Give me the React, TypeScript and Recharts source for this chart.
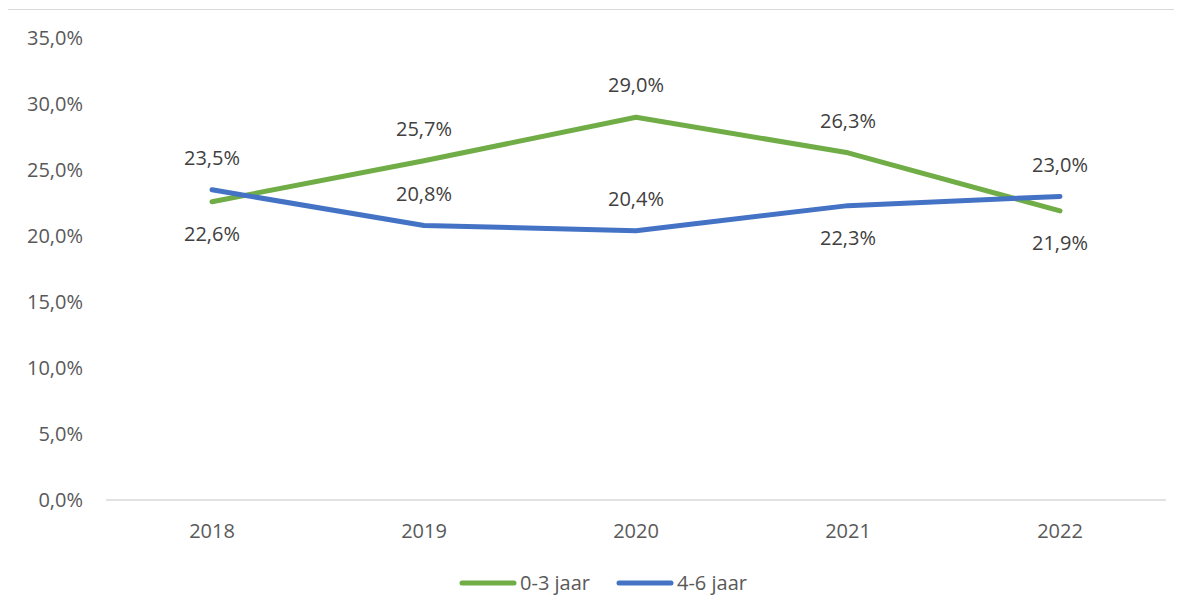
import React from 'react';
import { LineChart, Line, XAxis, YAxis } from 'recharts';

const years = ['2018', '2019', '2020', '2021', '2022'];
const age0to3 = [22.6, 25.7, 29.0, 26.3, 21.9];
const age4to6 = [23.5, 20.8, 20.4, 22.3, 23.0];
const yTicks = [0, 5, 10, 15, 20, 25, 30, 35];
const seriesNames = ['0-3 jaar', '4-6 jaar'];

const data = years.map((y, i) => ({ year: y, a: age0to3[i], b: age4to6[i] }));

const GREEN = '#70AD47';
const BLUE = '#4472C4';
const FONT = '"Open Sans", "Liberation Sans", sans-serif';

const fmt = (v: number) => v.toFixed(1).replace('.', ',') + '%';

const greenPlacement = ['below', 'above', 'above', 'above', 'below'];
const bluePlacement = ['above', 'above', 'above', 'below', 'above'];

const makeLabel = (placement: string[]) => (props: any) => {
  const { x, y, value, index } = props;
  const above = placement[index] === 'above';
  const cy = above ? y - 32 : y + 32;
  return (
    <text
      x={x}
      y={cy}
      dy="0.36em"
      textAnchor="middle"
      fill="#404040"
      fontSize={20}
      fontFamily={FONT}
    >
      {fmt(value)}
    </text>
  );
};

const LegendContent = () => (
  <div
    style={{
      display: 'flex',
      justifyContent: 'center',
      alignItems: 'center',
      fontFamily: FONT,
      fontSize: 20,
      color: '#595959',
      gap: 26,
      paddingLeft: 0,
    }}
  >
    {seriesNames.map((n, i) => (
      <div key={n} style={{ display: 'flex', alignItems: 'center' }}>
        <svg width={58} height={10} style={{ marginRight: 3 }}>
          <line
            x1={3}
            y1={5}
            x2={55}
            y2={5}
            stroke={i === 0 ? GREEN : BLUE}
            strokeWidth={5}
            strokeLinecap="round"
          />
        </svg>
        <span>{n}</span>
      </div>
    ))}
  </div>
);

export default function App() {
  return (
    <div
      style={{
        marginLeft: -1,
        marginTop: 1,
        width: 1200,
        height: 620,
        border: '1px solid #d9d9d9',
        background: '#fff',
        position: 'relative',
      }}
    >
      <div style={{ position: 'absolute', left: 0, top: 0 }}>
        <LineChart
          width={1190}
          height={605}
          data={data}
          margin={{ top: 28, right: 32, bottom: 85, left: 0 }}
        >
          <XAxis
            dataKey="year"
            height={30}
            padding={{ left: 106, right: 106 }}
            tickSize={0}
            tickMargin={24}
            axisLine={{ stroke: '#d9d9d9', strokeWidth: 1.5 }}
            tickLine={false}
            tick={{ fill: '#595959', fontSize: 20, fontFamily: FONT }}
          />
          <YAxis
            width={98}
            domain={[0, 35]}
            ticks={yTicks}
            tickFormatter={fmt}
            axisLine={false}
            tickLine={false}
            tickSize={0}
            tickMargin={23}
            interval={0}
            tick={{ fill: '#595959', fontSize: 20, fontFamily: FONT }}
          />
          <Line
            dataKey="a"
            name={seriesNames[0]}
            stroke={GREEN}
            strokeWidth={5}
            strokeLinecap="round"
            strokeLinejoin="round"
            dot={false}
            activeDot={false}
            isAnimationActive={false}
            label={makeLabel(greenPlacement)}
          />
          <Line
            dataKey="b"
            name={seriesNames[1]}
            stroke={BLUE}
            strokeWidth={5}
            strokeLinecap="round"
            strokeLinejoin="round"
            dot={false}
            activeDot={false}
            isAnimationActive={false}
            label={makeLabel(bluePlacement)}
          />
        </LineChart>
        <div style={{ position: 'absolute', left: 0, top: 559, width: 1190 }}>
          <LegendContent />
        </div>
      </div>
    </div>
  );
}
